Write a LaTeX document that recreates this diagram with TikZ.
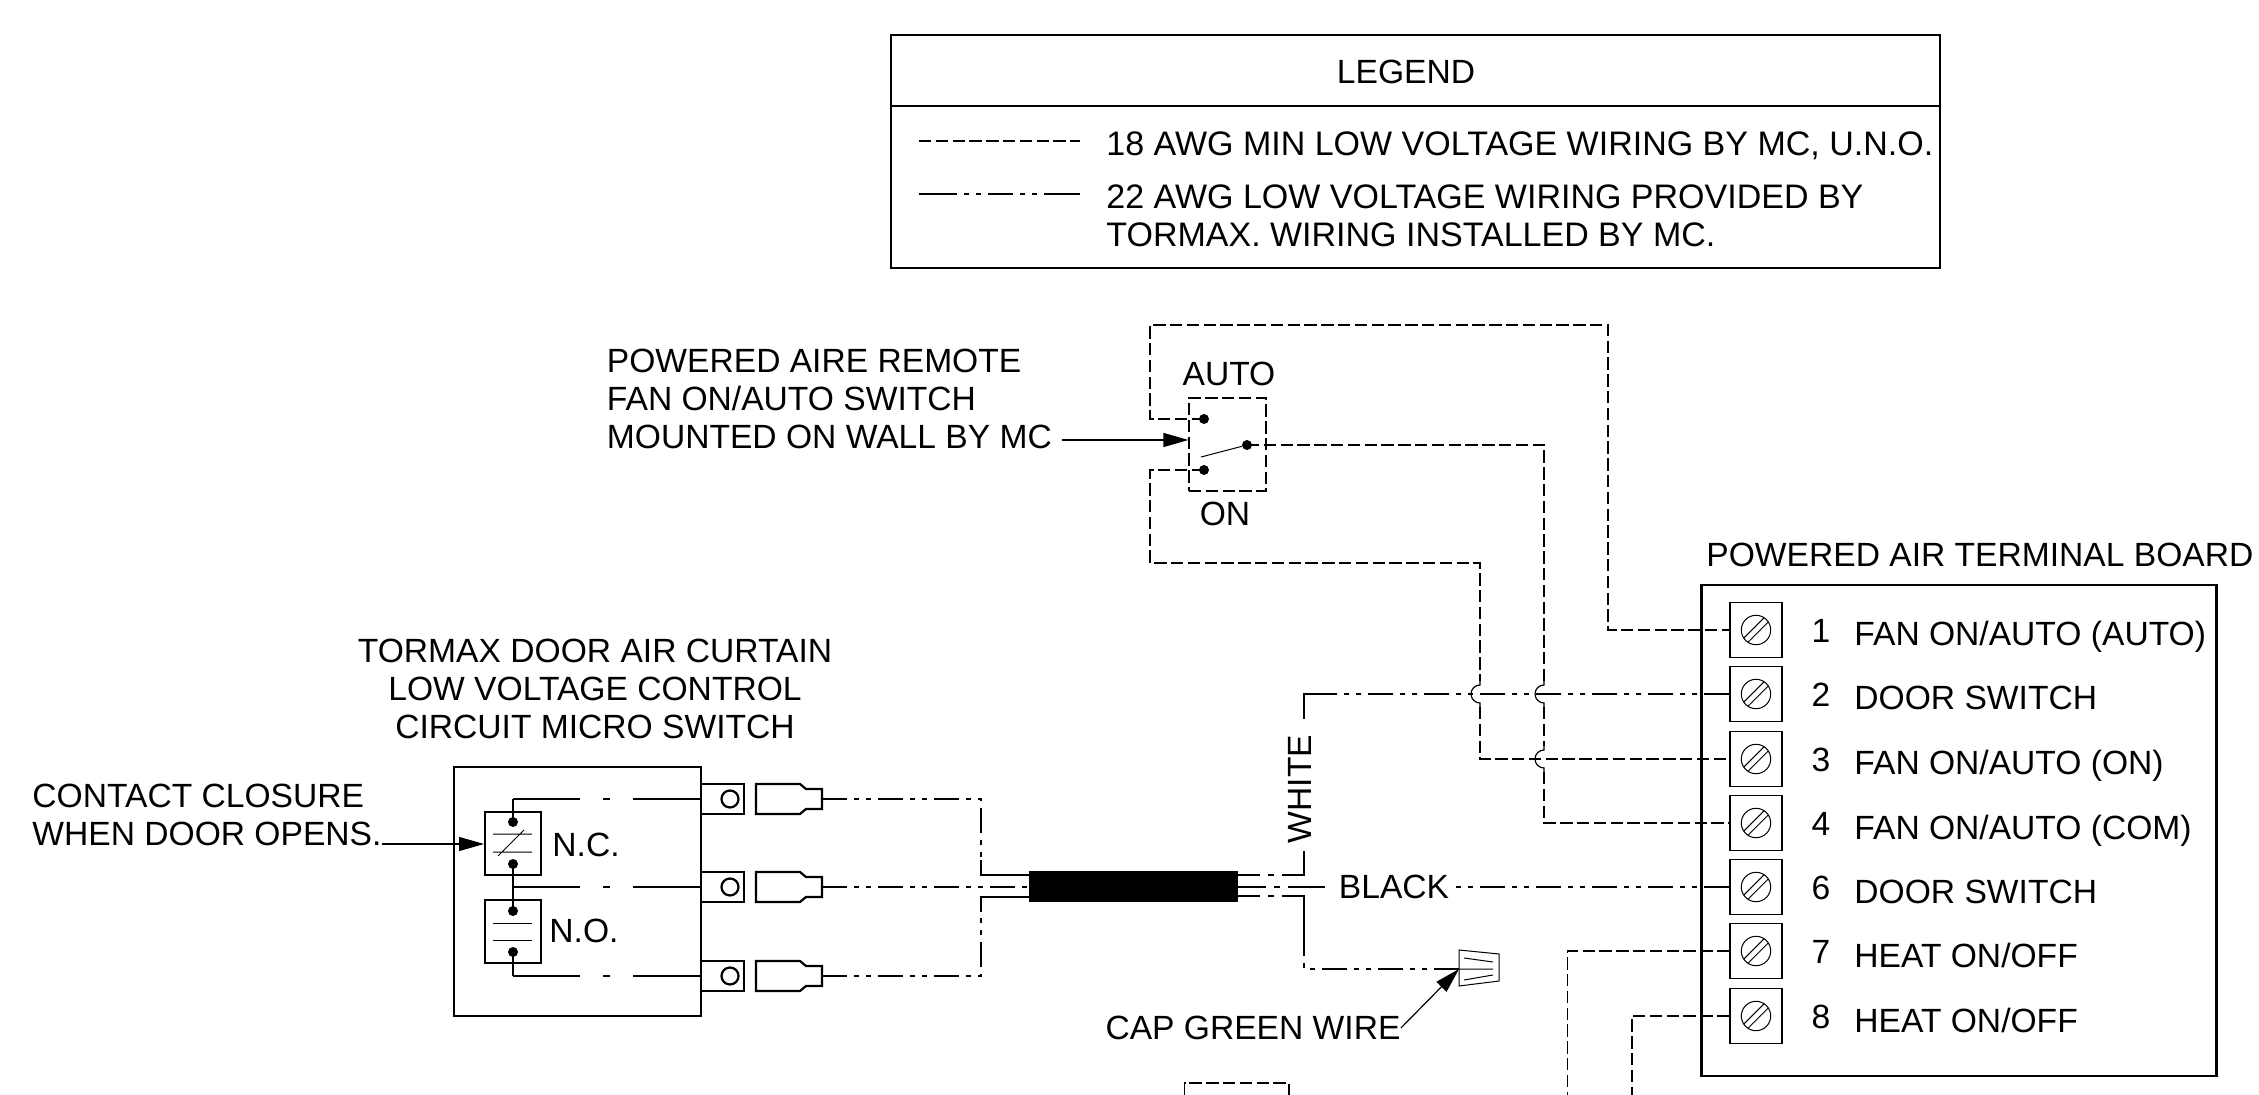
\documentclass[tikz,border=0pt]{standalone}
\usepackage{fontspec}
\setmainfont{Liberation Sans}
\usetikzlibrary{arrows.meta,calc}
\tikzset{
  lbl/.style={inner sep=0pt, font=\fontsize{16.8}{19}\selectfont},
  heavy/.style={draw, line width=1.25pt},
  wire/.style={draw, line width=0.6pt},
  lowv/.style={wire, dash pattern=on 6.2pt off 2.2pt},
  tmx/.style={wire, dash pattern=on 12.5pt off 3.5pt on 2.5pt off 3.5pt on 2.5pt off 3.5pt},
  stub/.style={wire, dash pattern=on 11pt off 4pt on 3pt off 4pt on 100pt},
  inner wire/.style={wire, dash pattern=on 33.5pt off 11.5pt on 3.5pt off 11.5pt on 80pt},
  pointer/.style={wire, -{Triangle[length=12.5pt,width=7pt]}},
  dot/.style={circle, fill, inner sep=0pt, minimum size=5pt},
  contact/.style={draw, line width=1pt, inner sep=0pt, minimum width=28pt, minimum height=31.5pt},
  tab/.style={draw, line width=1.2pt, inner sep=0pt, minimum width=21.5pt, minimum height=15pt},
  termbox/.style={wire, inner sep=0pt, minimum width=26pt, minimum height=27.5pt},
  screw/.style={draw, circle, line width=0.5pt, inner sep=0pt, minimum size=14.7pt},
}

\begin{document}
\begin{tikzpicture}[x=0.5pt, y=-0.5pt]
  \useasboundingbox (0,0) rectangle (2259,1095);

  % legend
  \node[heavy, inner sep=0pt, minimum width=524.5pt, minimum height=116.5pt] (legend) at (1415.5,151.5) {};
  \coordinate (ldiv) at (legend.west |- 0,106);
  \draw[heavy] (ldiv) -- (legend.east |- ldiv);
  \node[lbl] (ltitle) at (1406,72) {LEGEND};
  \coordinate (la) at (919,141);
  \coordinate (lb) at (1080,141);
  \coordinate (lc) at (919,194);
  \coordinate (ld) at (1080,194);
  \draw[lowv] (la) -- (lb);
  \draw[wire, dash pattern=on 19pt off 3.5pt on 2.5pt off 3.5pt on 2.5pt off 3.5pt on 12.5pt off 3.5pt on 2.5pt off 3.5pt on 2.5pt off 3.5pt on 19pt] (lc) -- (ld);
  \node[lbl, font=\fontsize{17}{19}\selectfont, anchor=west] (l18) at (1106,146) {18 AWG MIN LOW VOLTAGE WIRING BY MC, U.N.O.};
  \node[lbl, font=\fontsize{17}{19.3}\selectfont, anchor=north west, align=left] (l22) at (1106,184) {22 AWG LOW VOLTAGE WIRING PROVIDED BY\\TORMAX. WIRING INSTALLED BY MC.};

  % terminal board
  \node[heavy, inner sep=0pt, minimum width=257.5pt, minimum height=245.5pt] (board) at (1959,830.5) {};
  \node[lbl, anchor=west] (btitle) at (1706,555) {POWERED AIR TERMINAL BOARD};
  \foreach \n/\y/\lab in {1/630/{FAN ON/AUTO (AUTO)}, 2/694/{DOOR SWITCH}, 3/759/{FAN ON/AUTO (ON)},
      4/823/{FAN ON/AUTO (COM)}, 6/887/{DOOR SWITCH}, 7/951/{HEAT ON/OFF}, 8/1016/{HEAT ON/OFF}} {
    \node[termbox] (t\n) at (1756,\y) {};
    \node[screw] (s\n) at (t\n) {};
    \draw[line width=0.5pt] ($(s\n)+(12.3,-8.1)$) -- ($(s\n)+(-8.1,12.3)$);
    \draw[line width=0.5pt] ($(s\n)+(8.1,-12.3)$) -- ($(s\n)+(-12.3,8.1)$);
    \node[lbl] (n\n) at (1821,\y+1) {\n};
    \node[lbl, anchor=base west] (d\n) at (1854,\y+16) {\lab};
  }

  % wall switch
  \node[lowv, inner sep=0pt, minimum width=38.5pt, minimum height=46.5pt] (sw) at (1227.5,444.5) {};
  \node[dot] (swa) at (1204,419) {};
  \node[dot] (swo) at (1204,470) {};
  \node[dot] (swc) at (1247,445) {};
  \coordinate (blade) at (1201,457);
  \draw[line width=0.5pt] (blade) -- (swc);
  \node[lbl] (auto) at (1229,374) {AUTO};
  \node[lbl] (on) at (1225,514) {ON};
  \node[lbl, anchor=north west, align=left] (swlbl) at (606.5,349) {POWERED AIRE REMOTE\\FAN ON/AUTO SWITCH\\MOUNTED ON WALL BY MC};
  \coordinate (swarrow) at (1062,440);
  \draw[pointer] (swarrow) -- (sw.west |- swarrow);

  % dashed wires, hops at the crossings
  \draw[lowv] (swa.center) -- (1150,419) -- (1150,325) -- (1608,325) -- (1608,630) -- (t1);
  \draw[lowv] (swo.center) -- (1150,470) -- (1150,563) -- (1480,563) -- (1480,681);
  \draw[wire] (1480,681) -- (1480,685) arc[start angle=90, end angle=270, radius=4.5pt] -- (1480,707);
  \draw[lowv] (1480,707) -- (1480,759) -- (t3);
  \draw[lowv] (swc.center) -- (1544,445) -- (1544,681);
  \draw[wire] (1544,681) -- (1544,685) arc[start angle=90, end angle=270, radius=4.5pt] -- (1544,707);
  \draw[lowv] (1544,707) -- (1544,746);
  \draw[wire] (1544,746) -- (1544,750) arc[start angle=90, end angle=270, radius=4.5pt] -- (1544,772);
  \draw[lowv] (1544,772) -- (1544,823) -- (t4);
  \coordinate (h1) at (1567.5,1095);
  \coordinate (h2) at (1632,1095);
  \draw[lowv] (t7) -- (1567.5,951) -- (h1);
  \draw[lowv] (t8) -- (1632,1016) -- (h2);

  % box cut off by the page edge
  \coordinate (cbl) at (1184.5,1095);
  \coordinate (cbr) at (1289,1095);
  \draw[lowv] (cbl) -- (1184.5,1083) -- (1289,1083) -- (cbr);

  % door micro switch
  \node[heavy, inner sep=0pt, minimum width=123.5pt, minimum height=124.5pt] (tormax) at (577.5,891.5) {};
  \node[lbl, align=center] (tmxlbl) at (595,688.5) {TORMAX DOOR AIR CURTAIN\\LOW VOLTAGE CONTROL\\CIRCUIT MICRO SWITCH};
  \node[lbl, anchor=north west, align=left] (clbl) at (32,784) {CONTACT CLOSURE\\WHEN DOOR OPENS.};
  \node[contact] (nc) at (513,843.5) {};
  \node[contact] (no) at (513,931.5) {};
  \node[lbl] (nclbl) at (586,845) {N.C.};
  \node[lbl] (nolbl) at (584,931) {N.O.};
  \node[dot] (nca) at (513,822) {};
  \node[dot] (ncb) at (513,864) {};
  \node[dot] (noa) at (513,911) {};
  \node[dot] (nob) at (513,952) {};
  \draw[line width=0.5pt] (493,834) -- (532,834) (493,852) -- (532,852) (498,856) -- (524,830);
  \draw[line width=0.5pt] (493,923) -- (532,923) (493,940) -- (532,940);
  \coordinate (carrow) at (382,844);
  \draw[pointer] (carrow) -- (nc.west |- carrow);
  \foreach \i/\y in {1/799, 2/887, 3/976} {
    \node[tab] (tab\i) at (722.5,\y) {};
    \node[draw, circle, line width=1.1pt, inner sep=0pt, minimum size=8.5pt] (hole\i) at (730,\y) {};
    \draw[line width=1.1pt] (756,\y-15) -- (800,\y-15) -- (806,\y-10) -- (822,\y-10) -- (822,\y+10)
      -- (806,\y+10) -- (800,\y+15) -- (756,\y+15) -- cycle;
    \coordinate (spade\i) at (822,\y);
  }
  \draw[wire] (nca.center) -- (513,799);
  \draw[inner wire] (513,799) -- (tab1.west);
  \draw[line width=0.8pt] (ncb.center) -- (noa.center);
  \draw[inner wire] (513,887) -- (tab2.west);
  \draw[wire] (nob.center) -- (513,976);
  \draw[inner wire] (513,976) -- (tab3.west);

  % cable
  \node[fill, inner sep=0pt, minimum width=104.25pt, minimum height=15.5pt] (cable) at (1133.25,886.5) {};
  \coordinate (ca) at (cable.west |- 0,875);
  \coordinate (cb) at (cable.west |- 0,897);
  \coordinate (cc) at (cable.east |- 0,875);
  \coordinate (cd) at (cable.east |- 0,896);
  \draw[tmx] (spade1) -- (981,799) -- (981,860);
  \draw[wire] (981,860) -- (981,875) -- (ca);
  \draw[tmx] (spade2) -- (cable.west |- spade2);
  \draw[tmx] (spade3) -- (981,976) -- (981,912);
  \draw[wire] (981,912) -- (981,897) -- (cb);

  % white, black, green
  \node[lbl, rotate=90] (white) at (1300,789) {WHITE};
  \node[lbl] (black) at (1394,887) {BLACK};
  \draw[stub] (cc) -- (1304,875) -- (1304,851);
  \draw[tmx] (t2) -- (1320,694);
  \draw[wire] (1320,694) -- (1304,694) -- (1304,719);
  \draw[stub, dash pattern=on 14pt off 4pt on 3pt off 4pt on 100pt] (cable.east |- 0,887) -- (1325,887);
  \draw[tmx] (t6) -- (1454,887);
  \node[lbl] (cap) at (1253,1028) {CAP GREEN WIRE};
  \coordinate (nut) at (1459,969);
  \draw[stub] (cd) -- (1304,896) -- (1304,945);
  \draw[tmx] (nut) -- (1304,969) -- (1304,945);
  \draw[line width=0.5pt] (nut) -- (1459,950) -- (1499,954) -- (1499,981) -- (1459,986) -- cycle;
  \draw[line width=0.5pt] (1464,958) -- (1493,962) (nut) -- (1493,969) (1464,980) -- (1493,975);
  \draw[pointer] (cap.east) -- (nut);
\end{tikzpicture}
\end{document}
